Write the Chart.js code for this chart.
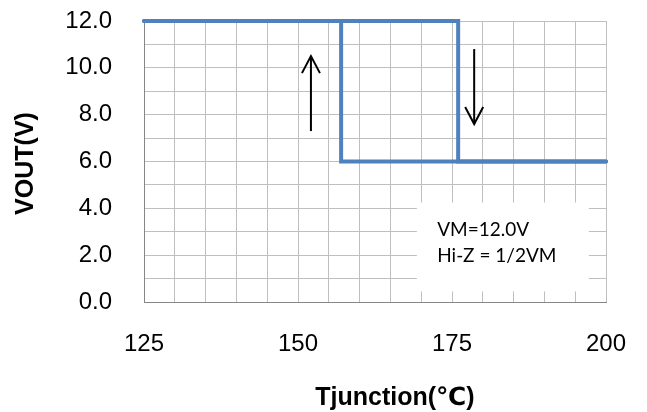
<!DOCTYPE html>
<html><head><meta charset="utf-8">
<script src="https://cdn.jsdelivr.net/npm/chart.js@4.4.1/dist/chart.umd.min.js"></script>
<style>html,body{margin:0;padding:0;background:#fff}#wrap{width:647px;height:412px;position:relative}</style>
</head><body><div id="wrap"><canvas id="c" width="647" height="412"></canvas></div>
<script>
// ---- data ----
const heatingTemp = [125, 176, 176, 200];
const heatingVout = [12, 12, 6, 6];
const coolingTemp = [200, 157, 157, 125];
const coolingVout = [6, 6, 12, 12];
const xTickLabels = [125, 150, 175, 200];
const yTickLabels = [0, 2, 4, 6, 8, 10, 12];
const xTitle = 'Tjunction(℃)';
const yTitle = 'VOUT(V)';
const noteLines = ['VM=12.0V', 'Hi-Z = 1/2VM'];
// annotation anchors in data units
const upArrow = {x: 152.1, from: 7.3, to: 10.5};
const downArrow = {x: 178.6, from: 10.8, to: 7.6};
const noteBox = {x0: 169.3, x1: 197.2, y0: 0.45, y1: 4.25};
const noteText = {x: 172.6, y: [2.8, 1.7]};

const toPts = (xs, ys) => xs.map((x, i) => ({x: x, y: ys[i]}));

const BLUE = '#4F81BD';
const GRID = '#BFBFBF';
const AXIS = '#868686';

const annot = {
  id: 'annot',
  beforeDatasetsDraw(chart) {
    const {ctx, scales: {x, y}} = chart;
    ctx.save();
    ctx.fillStyle = '#fff';
    const l = x.getPixelForValue(noteBox.x0), r = x.getPixelForValue(noteBox.x1);
    const t = y.getPixelForValue(noteBox.y1), b = y.getPixelForValue(noteBox.y0);
    ctx.fillRect(l, t, r - l, b - t);
    ctx.restore();
  },
  afterDatasetsDraw(chart) {
    const {ctx, scales: {x, y}, chartArea} = chart;
    ctx.save();
    ctx.strokeStyle = '#000';
    ctx.lineWidth = 2;
    ctx.lineCap = 'butt';
    const arrow = (a) => {
      const px = x.getPixelForValue(a.x);
      const y0 = y.getPixelForValue(a.from), y1 = y.getPixelForValue(a.to);
      const dir = y1 < y0 ? 1 : -1;
      ctx.beginPath();
      ctx.moveTo(px, y0); ctx.lineTo(px, y1); ctx.stroke();
      ctx.beginPath();
      ctx.moveTo(px - 9, y1 + dir * 17);
      ctx.lineTo(px, y1);
      ctx.lineTo(px + 9, y1 + dir * 17);
      ctx.stroke();
    };
    arrow(upArrow); arrow(downArrow);
    // note text
    ctx.fillStyle = '#000';
    ctx.font = '19px Lato';
    ctx.textAlign = 'left';
    ctx.textBaseline = 'alphabetic';
    noteLines.forEach((s, i) => ctx.fillText(s, x.getPixelForValue(noteText.x), y.getPixelForValue(noteText.y[i])));
    // axis titles
    ctx.font = 'bold 25px "Liberation Sans", Arial, "DejaVu Sans", sans-serif';
    ctx.textAlign = 'center';
    ctx.textBaseline = 'middle';
    ctx.fillText(xTitle, (chartArea.left + chartArea.right) / 2 + 20, 398);
    ctx.translate(26, (chartArea.top + chartArea.bottom) / 2 + 2);
    ctx.rotate(-Math.PI / 2);
    ctx.fillText(yTitle, 0, 0);
    ctx.restore();
  }
};

const tickFont = {family: '"Liberation Sans", Arial, sans-serif', size: 24};

new Chart(document.getElementById('c'), {
  type: 'scatter',
  data: {
    datasets: [
      {data: toPts(heatingTemp, heatingVout), showLine: true, borderColor: BLUE, borderWidth: 4,
       pointRadius: 0, borderCapStyle: 'round', borderJoinStyle: 'miter', clip: false},
      {data: toPts(coolingTemp, coolingVout), showLine: true, borderColor: BLUE, borderWidth: 4,
       pointRadius: 0, borderCapStyle: 'round', borderJoinStyle: 'miter', clip: false}
    ]
  },
  options: {
    responsive: false,
    animation: false,
    events: [],
    layout: {padding: {left: 0, top: 21, right: 41, bottom: 0}},
    plugins: {legend: {display: false}, tooltip: {enabled: false}},
    scales: {
      x: {
        type: 'linear', min: 125, max: 200,
        afterFit: s => { s.height = 110; s.paddingLeft = 0; s.paddingRight = 0; },
        ticks: {stepSize: 5, autoSkip: false, maxRotation: 0, padding: 28, color: '#000', font: tickFont,
                callback: v => xTickLabels.includes(v) ? String(v) : ''},
        grid: {color: GRID, lineWidth: 1, drawTicks: false},
        border: {display: true, color: AXIS, width: 1}
      },
      y: {
        type: 'linear', min: 0, max: 12,
        afterFit: s => { s.width = 144; s.paddingTop = 0; s.paddingBottom = 0; },
        ticks: {stepSize: 1, autoSkip: false, padding: 32, color: '#000', font: tickFont,
                callback: v => yTickLabels.includes(v) ? v.toFixed(1) : ''},
        grid: {color: GRID, lineWidth: 1, drawTicks: false},
        border: {display: true, color: AXIS, width: 1}
      }
    }
  },
  plugins: [annot]
});
</script>
</body></html>
